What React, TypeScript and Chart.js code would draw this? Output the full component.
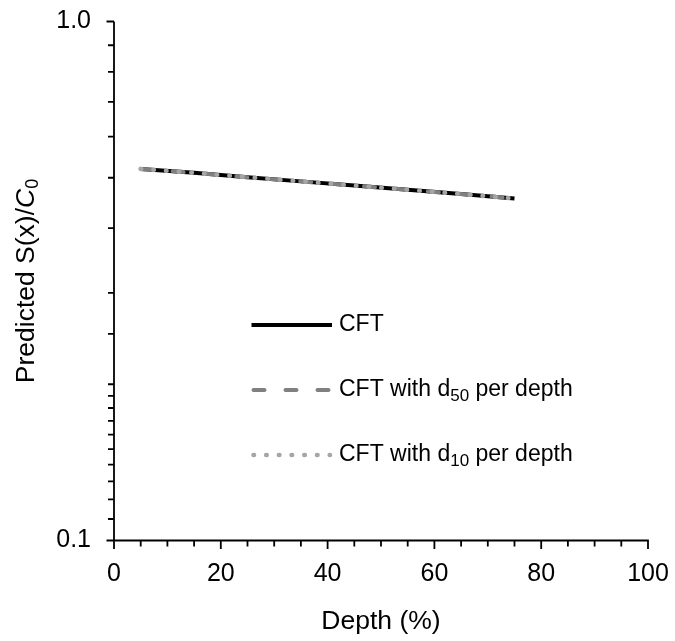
import React, { useEffect, useRef } from "react";
import { Chart, registerables } from "chart.js";

Chart.register(...registerables);

// ---- data ----
const depthPct = [5, 15, 25, 35, 45, 55, 65, 75];
const cftValues = [0.52, 0.511, 0.501, 0.492, 0.483, 0.474, 0.465, 0.456];
const cftD50Values = [0.52, 0.511, 0.501, 0.492, 0.483, 0.474, 0.465, 0.456];
const cftD10Values = [0.52, 0.511, 0.501, 0.492, 0.483, 0.474, 0.465, 0.456];

const xMajorStep = 20;
const yLabelValues = [0.1, 1];
const yLabelTexts = ["0.1", "1.0"];

const xTitle = "Depth (%)";
// legend entries: [main text, subscript, trailing text]
const legendParts = [
  ["CFT", "", ""],
  ["CFT with d", "50", " per depth"],
  ["CFT with d", "10", " per depth"],
];

const FONT = '"Liberation Sans", Arial, Helvetica, sans-serif';

type Run = { text: string; size: number; italic?: boolean; dy?: number };

function drawRuns(ctx: CanvasRenderingContext2D, runs: Run[], x: number, y: number, align: "left" | "center") {
  let total = 0;
  const widths: number[] = [];
  for (const r of runs) {
    ctx.font = `${r.italic ? "italic " : ""}${r.size}px ${FONT}`;
    const w = ctx.measureText(r.text).width;
    widths.push(w);
    total += w;
  }
  let cx = align === "center" ? x - total / 2 : x;
  ctx.textAlign = "left";
  runs.forEach((r, i) => {
    ctx.font = `${r.italic ? "italic " : ""}${r.size}px ${FONT}`;
    ctx.fillText(r.text, cx, y + (r.dy || 0));
    cx += widths[i];
  });
}

const zeroPad = (s: any) => {
  s.paddingTop = 0;
  s.paddingBottom = 0;
  s.paddingLeft = 0;
  s.paddingRight = 0;
};

export default function App() {
  const ref = useRef<HTMLCanvasElement>(null);

  useEffect(() => {
    if (!ref.current) return;

    const decor = {
      id: "decor",
      afterDraw(chart: any) {
        const ctx: CanvasRenderingContext2D = chart.ctx;
        const xs = chart.scales.x;
        const ys = chart.scales.y;
        const x0 = xs.getPixelForValue(xs.min);
        const x1 = xs.getPixelForValue(xs.max);
        const yTop = ys.getPixelForValue(ys.max);
        const yBot = ys.getPixelForValue(ys.min);

        ctx.save();
        ctx.strokeStyle = "#000";
        ctx.lineWidth = 1.8;
        ctx.lineCap = "butt";
        ctx.beginPath();
        // axis lines
        ctx.moveTo(x0, yTop);
        ctx.lineTo(x0, yBot + 8.5);
        ctx.moveTo(x0 - 7.5, yBot);
        ctx.lineTo(x1 + 0.9, yBot);
        // y ticks
        ys.ticks.forEach((t: any) => {
          const py = ys.getPixelForValue(t.value);
          const major = yLabelValues.some((v) => Math.abs(v - t.value) < 1e-9);
          const len = major ? 7.5 : 6;
          ctx.moveTo(x0 - len, py);
          ctx.lineTo(x0, py);
        });
        // x ticks
        xs.ticks.forEach((t: any) => {
          const px = xs.getPixelForValue(t.value);
          const major = Math.abs(t.value % xMajorStep) < 1e-9;
          const len = major ? 8.5 : 6;
          ctx.moveTo(px, yBot);
          ctx.lineTo(px, yBot + len);
        });
        ctx.stroke();

        // x title
        ctx.fillStyle = "#000";
        ctx.textBaseline = "middle";
        drawRuns(ctx, [{ text: xTitle, size: 26.5 }], (x0 + x1) / 2, 622, "center");

        // y title
        ctx.save();
        ctx.translate(27, (yTop + yBot) / 2);
        ctx.rotate(-Math.PI / 2);
        drawRuns(
          ctx,
          [
            { text: "Predicted S(x)/", size: 26.5 },
            { text: "C", size: 26.5, italic: true },
            { text: "0", size: 18, dy: 6 },
          ],
          0,
          0,
          "center"
        );
        ctx.restore();

        // legend
        const ds = chart.data.datasets;
        const legY = [325, 390, 455];
        const lx0 = 253.5;
        const lx1 = 330;
        legendParts.forEach((parts, i) => {
          const d = ds[i];
          ctx.save();
          ctx.strokeStyle = d.borderColor;
          ctx.lineWidth = d.borderWidth;
          ctx.lineCap = d.borderCapStyle || "butt";
          ctx.setLineDash(d.borderDash || []);
          ctx.beginPath();
          ctx.moveTo(i === 0 ? 251.5 : lx0, legY[i]);
          ctx.lineTo(i === 0 ? 332 : lx1, legY[i]);
          ctx.stroke();
          ctx.restore();
          ctx.fillStyle = "#000";
          ctx.textBaseline = "middle";
          const runs: Run[] = [{ text: parts[0], size: 23 }];
          if (parts[1]) runs.push({ text: parts[1], size: 17, dy: 6 });
          if (parts[2]) runs.push({ text: parts[2], size: 23 });
          drawRuns(ctx, runs, 339, legY[i], "left");
        });
        ctx.restore();
      },
    };

    const chart = new Chart(ref.current, {
      type: "line",
      data: {
        labels: depthPct,
        datasets: [
          {
            label: "CFT",
            data: depthPct.map((x, i) => ({ x, y: cftValues[i] })),
            borderColor: "#000000",
            borderWidth: 4,
            borderCapStyle: "butt",
            pointRadius: 0,
            order: 3,
          },
          {
            label: "CFT with d50 per depth",
            data: depthPct.map((x, i) => ({ x, y: cftD50Values[i] })),
            borderColor: "#808080",
            borderWidth: 4,
            borderDash: [11, 21],
            borderCapStyle: "round",
            pointRadius: 0,
            order: 2,
          },
          {
            label: "CFT with d10 per depth",
            data: depthPct.map((x, i) => ({ x, y: cftD10Values[i] })),
            borderColor: "#A6A6A6",
            borderWidth: 4.6,
            borderDash: [0.5, 12.2],
            borderCapStyle: "round",
            pointRadius: 0,
            order: 1,
          },
        ],
      },
      options: {
        animation: false,
        responsive: false,
        devicePixelRatio: 1,
        layout: { padding: { left: 0, right: 27, top: 21.5, bottom: 0 } },
        plugins: { legend: { display: false }, tooltip: { enabled: false } },
        scales: {
          x: {
            type: "linear",
            min: 0,
            max: 100,
            grid: { display: false, drawTicks: false },
            border: { display: false },
            ticks: {
              stepSize: 5,
              autoSkip: false,
              maxRotation: 0,
              padding: 19,
              color: "#000",
              font: { family: FONT, size: 25 },
              callback: (v: any) => (Math.abs(Number(v) % xMajorStep) < 1e-9 ? String(v) : ""),
            },
            afterFit: (s: any) => {
              s.height = 100.5;
              zeroPad(s);
            },
          },
          y: {
            type: "logarithmic",
            min: 0.1,
            max: 1,
            grid: { display: false, drawTicks: false },
            border: { display: false },
            ticks: {
              autoSkip: false,
              padding: 23,
              color: "#000",
              font: { family: FONT, size: 25 },
              callback: (v: any) => {
                const idx = yLabelValues.findIndex((t) => Math.abs(t - Number(v)) < 1e-9);
                return idx >= 0 ? yLabelTexts[idx] : "";
              },
            },
            afterFit: (s: any) => {
              s.width = 114;
              zeroPad(s);
            },
          },
        },
      },
      plugins: [decor],
    } as any);

    return () => chart.destroy();
  }, []);

  return (
    <canvas
      ref={ref}
      width={675}
      height={641}
      style={{ position: "absolute", left: 0, top: 0, width: 675, height: 641, display: "block" }}
    />
  );
}
